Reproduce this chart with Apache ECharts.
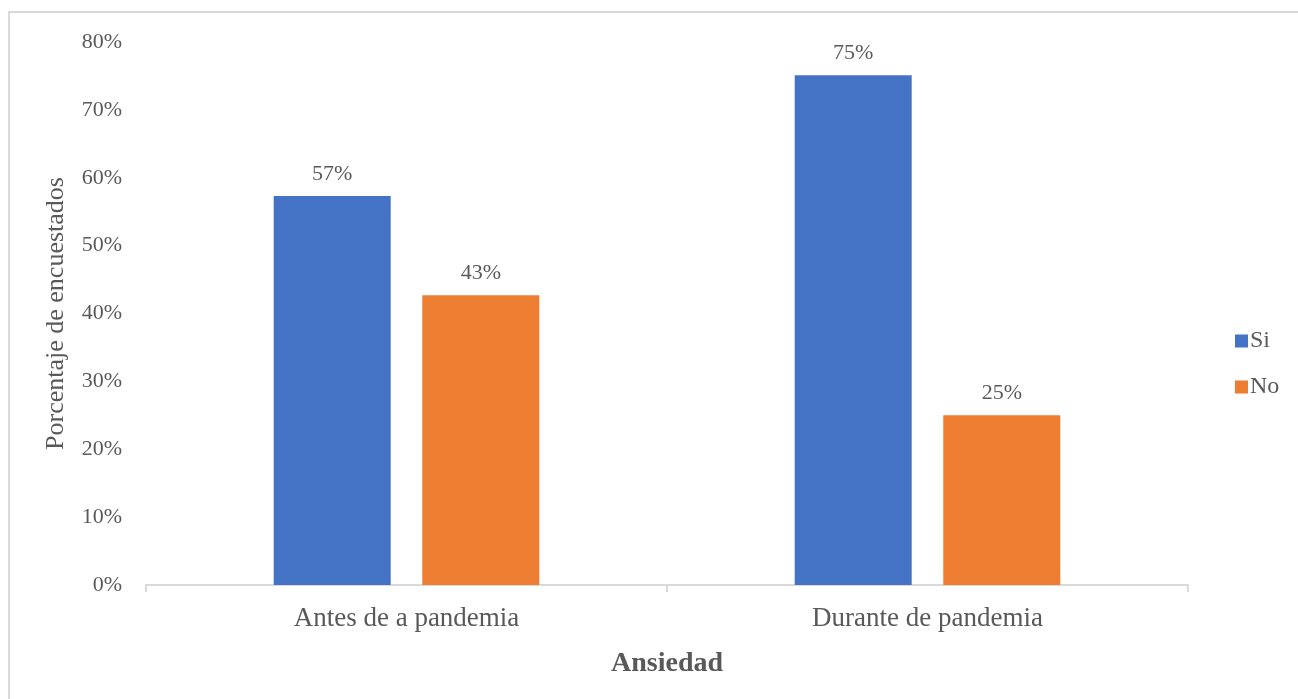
<!DOCTYPE html>
<html>
<head>
<meta charset="utf-8">
<script src="https://cdn.jsdelivr.net/npm/echarts@6/dist/echarts.min.js"></script>
<style>
  html, body { margin: 0; padding: 0; background: #fff; }
  #chart { width: 1298px; height: 699px; }
</style>
</head>
<body>
<div id="chart"></div>
<script>
const categories = ["Antes de a pandemia", "Durante de pandemia"];
const siValues = [57.3, 75.1];
const noValues = [42.7, 25.0];
const siLabels = ["57%", "75%"];
const noLabels = ["43%", "25%"];
const yTicks = [0, 10, 20, 30, 40, 50, 60, 70, 80];

const font = "Liberation Serif";
const textColor = "#595959";

let myChart = echarts.init(document.getElementById("chart"));
myChart.setOption({
  animation: false,
  textStyle: { fontFamily: font, color: textColor },
  graphic: [
    {
      type: "rect",
      shape: { x: 9, y: 12, width: 1300, height: 700 },
      style: { fill: "none", stroke: "#d9d9d9", lineWidth: 2 },
      silent: true
    }
  ],
  grid: { left: 146, right: 110, top: 42, bottom: 114 },
  legend: {
    orient: "vertical",
    left: 1230,
    top: 324,
    itemWidth: 13,
    itemHeight: 13,
    itemGap: 22,
    icon: "rect",
    textStyle: { fontFamily: font, fontSize: 24, lineHeight: 24, color: textColor, padding: [0, 0, 0, -3] },
    data: ["Si", "No"]
  },
  xAxis: {
    type: "category",
    data: categories,
    name: "Ansiedad",
    nameLocation: "middle",
    nameGap: 65,
    nameTextStyle: { fontFamily: font, fontSize: 28, fontWeight: "bold", color: textColor },
    axisLine: { lineStyle: { color: "#d9d9d9", width: 2 } },
    axisTick: { show: true, length: 7, lineStyle: { color: "#d9d9d9", width: 2 } },
    axisLabel: { fontFamily: font, fontSize: 27, color: textColor, margin: 20 }
  },
  yAxis: {
    type: "value",
    min: yTicks[0],
    max: yTicks[yTicks.length - 1],
    interval: 10,
    name: "Porcentaje de encuestados",
    nameLocation: "middle",
    nameGap: 77,
    nameTextStyle: { fontFamily: font, fontSize: 26, color: textColor },
    axisLine: { show: false },
    axisTick: { show: false },
    splitLine: { show: false },
    axisLabel: {
      fontFamily: font, fontSize: 22, color: textColor, margin: 24,
      formatter: v => v + "%"
    }
  },
  series: [
    {
      name: "Si",
      type: "bar",
      data: siValues,
      barWidth: 117,
      barGap: "27%",
      itemStyle: { color: "#4472c4" },
      label: {
        show: true, position: "top", distance: 11,
        fontFamily: font, fontSize: 22, color: textColor,
        formatter: p => siLabels[p.dataIndex]
      }
    },
    {
      name: "No",
      type: "bar",
      data: noValues,
      barWidth: 117,
      itemStyle: { color: "#ed7d31" },
      label: {
        show: true, position: "top", distance: 11,
        fontFamily: font, fontSize: 22, color: textColor,
        formatter: p => noLabels[p.dataIndex]
      }
    }
  ]
});
</script>
</body>
</html>
